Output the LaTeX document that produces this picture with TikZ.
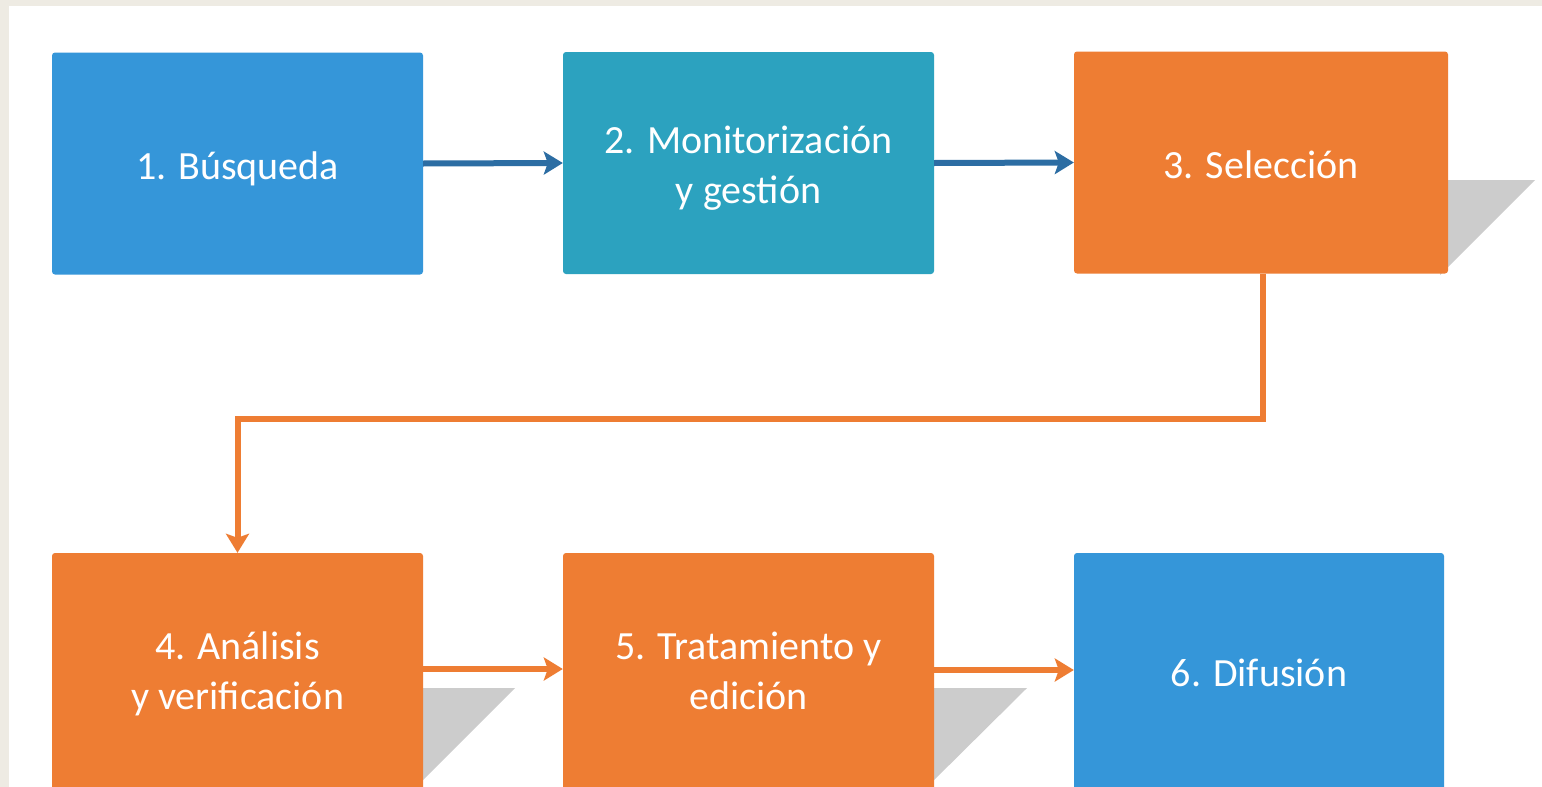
\documentclass[tikz,border=0pt]{standalone}
\usepackage{fontspec}
\setmainfont{Carlito}
\usetikzlibrary{arrows.meta,calc}
\definecolor{beigebg}{HTML}{EEEBE3}
\definecolor{boxblue}{HTML}{3596D9}
\definecolor{boxteal}{HTML}{2CA2BF}
\definecolor{boxorange}{HTML}{EE7D33}
\definecolor{arrowblue}{HTML}{2C6DA3}
\definecolor{shadowgray}{HTML}{CCCCCC}
\tikzset{
  stepbox/.style={rectangle, rounded corners=3pt, minimum width=371pt, inner sep=0pt},
  steptext/.style={text=white, font=\fontsize{40}{50}\selectfont, align=center, inner sep=0pt},
  topbox/.style={stepbox, minimum height=222pt},
  lowbox/.style={stepbox, minimum height=240pt},
  conn/.style={line width=6pt, -{Stealth[length=19pt,width=23pt,inset=4pt]}},
}
\begin{document}
\begin{tikzpicture}[x=1pt,y=-1pt]
\useasboundingbox (0,0) rectangle (1542,787);
\begin{scope}
\clip (0,0) rectangle (1542,787);
\fill[beigebg] (0,0) rectangle (1542,787);
\fill[white] (9,6) rectangle (1542,787);
% shadows
\fill[shadowgray] (1440,180) -- (1535,180) -- (1440,275) -- cycle;
\fill[shadowgray] (415,688) -- (515,688) -- (415,788) -- cycle;
\fill[shadowgray] (926,688) -- (1027,688) -- (926,788) -- cycle;
% boxes
\node[topbox, fill=boxblue] (b1) at (237.5,163.5) {};
\node[topbox, fill=boxteal] (b2) at (748.5,163) {};
\node[topbox, minimum width=374pt, fill=boxorange] (b3) at (1261,162.5) {};
\node[lowbox, fill=boxorange] (b4) at (237.5,673) {};
\node[lowbox, fill=boxorange] (b5) at (748.5,673) {};
\node[lowbox, minimum width=370pt, fill=boxblue] (b6) at (1259,673) {};
% texts
\node[steptext] (t1) at ($(b1.center)+(0,5)$) {1. Búsqueda};
\node[steptext] (t2) at ($(b2.center)+(0,5)$) {2. Monitorización\\y gestión};
\node[steptext] (t3) at ($(b3.center)+(0,2)$) {3. Selección};
\node[steptext] (t4) at ($(b4.center)+(0,1)$) {4. Análisis\\y verificación};
\node[steptext] (t5) at ($(b5.center)+(0,-2.5)$) {5. Tratamiento y\\edición};
\node[steptext] (t6) at (b6.center) {6. Difusión};
% connectors
\draw[conn, arrowblue] (b1.east) -- (b2.west);
\draw[conn, arrowblue] (b2.east) -- (b3.west);
\coordinate (mid) at (750,419);
\draw[conn, boxorange] ([xshift=2pt]b3.south) |- (mid) -| (b4.north);
\draw[conn, boxorange] ($(b4.east)+(0,-4)$) -- ($(b5.west)+(0,-4)$);
\draw[conn, boxorange] ($(b5.east)+(0,-3)$) -- ($(b6.west)+(0,-3)$);
\end{scope}
\end{tikzpicture}
\end{document}
